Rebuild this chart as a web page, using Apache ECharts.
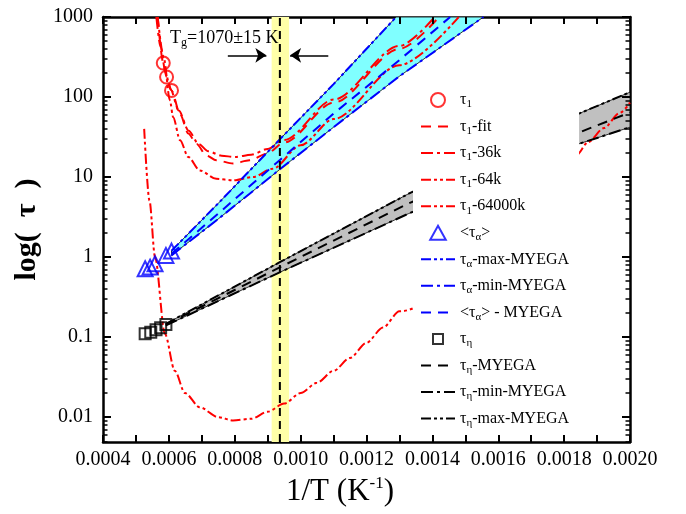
<!DOCTYPE html>
<html><head><meta charset="utf-8">
<script src="https://cdn.jsdelivr.net/npm/echarts@6/dist/echarts.min.js"></script>
<style>html,body{margin:0;padding:0;background:#fff}#c{width:686px;height:514px}</style>
</head><body><div id="c"></div>
<script>
// ---------- data ----------
const xTickValues = [0.0004,0.0005,0.0006,0.0007,0.0008,0.0009,0.0010,0.0011,0.0012,0.0013,0.0014,0.0015,0.0016,0.0017,0.0018,0.0019,0.0020];
const xTickLabels = ['0.0004','0.0006','0.0008','0.0010','0.0012','0.0014','0.0016','0.0018','0.0020'];
const yTickValues = [0.01, 0.1, 1, 10, 100, 1000];
const yTickLabels = ['0.01','0.1','1','10','100','1000'];

const tau1Pts   = [[0.000583,266],[0.000593,178],[0.000608,121]];
const tau1Fit   = [[0.000566,1000],[0.000583,266],[0.000593,178],[0.000608,121],[0.000634,61],[0.000659,35],[0.000684,26],[0.000714,18.6],[0.000744,16.2],[0.000795,14.8],[0.000845,16.2],[0.000896,19.5],[0.00095,27],[0.0011,85],[0.0013,400],[0.00142,1000]];
const tau1_36k  = [[0.000562,1000],[0.000575,420],[0.00059,200],[0.000605,125],[0.00063,68],[0.00066,38],[0.00069,26],[0.00072,21],[0.00076,18.5],[0.0008,17.8],[0.00085,19],[0.0009,22.5],[0.00095,29],[0.0011,93],[0.0013,435],[0.001407,1000]];
const tau1_64k  = [[0.000566,1000],[0.000585,300],[0.000603,91],[0.000613,56],[0.000634,28.8],[0.000659,17.8],[0.000694,12.1],[0.000744,9.5],[0.000795,9.1],[0.000855,10],[0.000915,12.7],[0.001,25],[0.0011,53],[0.0013,250],[0.00148,1000]];
const tau1_64000k = [[0.000525,40],[0.000541,5.1],[0.000558,1.0],[0.000588,0.11],[0.000618,0.038],[0.000649,0.020],[0.000694,0.0133],[0.00075,0.0100],[0.000795,0.0091],[0.00085,0.00955],[0.0009,0.0117],[0.00095,0.0148],[0.001,0.020],[0.00105,0.027],[0.0011,0.038],[0.00115,0.055],[0.0012,0.085],[0.00125,0.132],[0.0013,0.21],[0.001837,18.7],[0.001873,27.4],[0.001921,41],[0.001968,63],[0.002,85]];

const tauAPts  = [[0.000528,0.716],[0.000543,0.75],[0.000558,0.827],[0.000591,1.05],[0.000608,1.19]];
const tauAMax  = [[0.000608,1.2],[0.00075,4.7],[0.000938,30],[0.0011,145],[0.00129,1000]];
const tauAMin  = [[0.000608,1.05],[0.00075,3.0],[0.000938,12.6],[0.0011,42],[0.0013,182],[0.001555,1000]];
const tauAMean = [[0.000608,1.1],[0.00075,3.5],[0.000938,16.5],[0.0011,62],[0.0013,290],[0.001454,1000]];

const tauEtaPts  = [[0.000528,0.110],[0.000545,0.1155],[0.000561,0.124],[0.000575,0.131],[0.000591,0.144]];
const tauEtaMax  = [[0.000591,0.147],[0.000938,0.87],[0.001328,6.2],[0.001832,59],[0.002,115]];
const tauEtaMin  = [[0.000591,0.14],[0.000938,0.65],[0.001328,3.5],[0.001832,25],[0.002,42]];
const tauEtaMean = [[0.000591,0.144],[0.000938,0.75],[0.001328,4.7],[0.001873,40],[0.002,64]];

const tgValue = 0.000937;           // 1/1070 K
const tgBand  = [0.000912, 0.000965];
const tgArrowY = 332;
const tgArrowLeft  = [0.000779, 0.000896];
const tgArrowRight = [0.001084, 0.000968];

// ---------- chart ----------
const FONT = '"Liberation Serif","Times New Roman",serif';
const W = 686, H = 514;
const GRID = {left:103, right:56, top:17, bottom:72};
const X_MIN = 0.0004, X_MAX = 0.002, Y_MIN = 0.0049, Y_MAX = 1000;
const DASH = [10,7], DASH_DOT = [12,4,3,4], DASH_DOT_DOT = [10,3,3,3,3,3];

const minorY = [];
for (let e = -3; e <= 2; e++) for (let m = 2; m <= 9; m++) {
  const v = +(m * Math.pow(10, e)).toPrecision(3);
  if (v >= Y_MIN && v <= Y_MAX) minorY.push(v);
}

// tick lengths in pixels, converted to axis units so that the ticks go through the axes' scales
const pxPerX = (W - GRID.left - GRID.right) / (X_MAX - X_MIN);
const pxPerDecade = (H - GRID.top - GRID.bottom) / (Math.log10(Y_MAX) - Math.log10(Y_MIN));
const yStep = px => Math.pow(10, px / pxPerDecade);
const xStep = px => px / pxPerX;
const tickLines = [];
const majorLS = {color:'#000', width:2, type:'solid'};
const minorLS = {color:'#000', width:1.5, type:'solid'};
xTickValues.forEach(v => {
  tickLines.push([{coord:[v, Y_MIN], lineStyle:majorLS}, {coord:[v, Y_MIN * yStep(7)]}]);
  tickLines.push([{coord:[v, Y_MAX], lineStyle:majorLS}, {coord:[v, Y_MAX / yStep(7)]}]);
});
yTickValues.forEach(v => {
  tickLines.push([{coord:[X_MIN, v], lineStyle:majorLS}, {coord:[X_MIN + xStep(8), v]}]);
  tickLines.push([{coord:[X_MAX, v], lineStyle:majorLS}, {coord:[X_MAX - xStep(8), v]}]);
});
minorY.forEach(v => {
  tickLines.push([{coord:[X_MIN, v], lineStyle:minorLS}, {coord:[X_MIN + xStep(4.5), v]}]);
  tickLines.push([{coord:[X_MAX, v], lineStyle:minorLS}, {coord:[X_MAX - xStep(4.5), v]}]);
});

const legendText = {
  'tau1': '{t|τ}{s|1}',
  'tau1-fit': '{t|τ}{s|1}{t|-fit}',
  'tau1-36k': '{t|τ}{s|1}{t|-36k}',
  'tau1-64k': '{t|τ}{s|1}{t|-64k}',
  'tau1-64000k': '{t|τ}{s|1}{t|-64000k}',
  'tauA': '{t|<τ}{s|α}{t|>}',
  'tauA-max': '{t|τ}{s|α}{t|-max-MYEGA}',
  'tauA-min': '{t|τ}{s|α}{t|-min-MYEGA}',
  'tauA-mean': '{t|<τ}{s|α}{t|> - MYEGA}',
  'tauEta': '{t|τ}{s|η}',
  'tauEta-mean': '{t|τ}{s|η}{t|-MYEGA}',
  'tauEta-min': '{t|τ}{s|η}{t|-min-MYEGA}',
  'tauEta-max': '{t|τ}{s|η}{t|-max-MYEGA}'
};
const hideSym = {color:'rgba(0,0,0,0)', borderColor:'rgba(0,0,0,0)', borderWidth:0, opacity:0};
const legendIcons = {
  'tau1': 'circle',
  'tauA': 'path://M5,0 L10,9 L0,9 Z',
  'tauEta': 'path://M-2,-2 M0,0 L10,0 L10,10 L0,10 Z M12,12'
};
const legendData = Object.keys(legendText).map(n =>
  legendIcons[n] ? {name:n, icon:legendIcons[n]} : {name:n, itemStyle:hideSym});

function lineS(name, data, color, dash, smooth) {
  return {type:'line', name, data, symbol:'none', smooth: smooth ? 0.3 : false, smoothMonotone:'x',
    z:3, clip:true, lineStyle:{color, width:2, type:dash}, itemStyle:{color}};
}
function bandS(name, upper, lower, fill) {
  return {type:'custom', name, data: upper, encode:{x:0, y:1}, z:2, silent:true, clip:true,
    renderItem: (params, api) => {
      if (params.dataIndex !== 0) return null;
      const pts = upper.map(p => api.coord(p)).concat(lower.slice().reverse().map(p => api.coord(p)));
      return {type:'polygon', shape:{points:pts}, style:{fill, stroke:'#000', lineWidth:0.8}};
    }};
}
function scatterS(name, data, color, symbol, size) {
  return {type:'scatter', name, data, symbol, symbolSize:size, z:6,
    itemStyle:{color:'rgba(0,0,0,0)', borderColor:color, borderWidth:2}};
}

const axisLineStyle = {color:'#000', width:2.5};
const xBase = {type:'value', min:X_MIN, max:X_MAX, interval:0.0002,
  splitLine:{show:false}, minorSplitLine:{show:false}, axisTick:{show:false}, minorTick:{show:false}};
const yBase = {type:'log', logBase:10, min:Y_MIN, max:Y_MAX,
  splitLine:{show:false}, minorSplitLine:{show:false}, axisTick:{show:false}, minorTick:{show:false}};

const yLabel = v => { const i = yTickValues.findIndex(t => Math.abs(Math.log10(t) - Math.log10(v)) < 1e-4); return i >= 0 ? yTickLabels[i] : ''; };

const option = {
  animation:false,
  backgroundColor:'#fff',
  grid:{left:GRID.left, right:GRID.right, top:GRID.top, bottom:GRID.bottom, containLabel:false},
  title:{text:'{a|T}{b|g}{a|=1070±15 K}', left:170, top:27, padding:0,
    textStyle:{fontWeight:'normal', rich:{a:{fontFamily:FONT, fontSize:18, fontWeight:'normal', lineHeight:22, color:'#000'},
                     b:{fontFamily:FONT, fontSize:12, fontWeight:'normal', lineHeight:6, verticalAlign:'bottom', color:'#000'}}}},
  xAxis:[
    Object.assign({}, xBase, {position:'bottom', axisLine:{show:true, onZero:false, lineStyle:axisLineStyle},
      axisLabel:{color:'#000', fontFamily:FONT, fontSize:20, margin:8,
        formatter: v => xTickLabels[Math.round((v - X_MIN) / 0.0002)] || ''},
      name:'{a|1/T (K}{b|-1}{a|)}', nameLocation:'middle', nameGap:27,
      nameTextStyle:{padding:[0,53,0,0], rich:{a:{fontFamily:FONT, fontSize:31, lineHeight:34, color:'#000'},
        b:{fontFamily:FONT, fontSize:17, lineHeight:12, verticalAlign:'top', color:'#000'}}}}),
    Object.assign({}, xBase, {position:'top', axisLine:{show:true, onZero:false, lineStyle:axisLineStyle},
      axisLabel:{show:false}})
  ],
  yAxis:[
    Object.assign({}, yBase, {position:'left',
      axisLine:{show:true, onZero:false, lineStyle:axisLineStyle},
      axisLabel:{show:true, customValues:yTickValues, color:'#000', fontFamily:FONT, fontSize:20, margin:10, formatter: yLabel},
      name:'{a|log(  τ  )}', nameLocation:'middle', nameGap:56,
      nameTextStyle:{rich:{a:{fontFamily:FONT, fontSize:30, fontWeight:'bold', lineHeight:36, color:'#000'}}}}),
    Object.assign({}, yBase, {position:'right',
      axisLine:{show:true, onZero:false, lineStyle:axisLineStyle}, axisLabel:{show:false}})
  ],
  legend:{
    data:legendData, orient:'vertical', left:413, top:85,
    padding:[7,10,7,7], itemGap:8.55, itemWidth:34, itemHeight:14,
    backgroundColor:'#fff', selectedMode:false,
    formatter: n => legendText[n],
    textStyle:{color:'#000', fontFamily:FONT, fontSize:16,
      rich:{t:{fontFamily:FONT, fontSize:16, lineHeight:20, color:'#000'},
            s:{fontFamily:FONT, fontSize:11, lineHeight:6, verticalAlign:'bottom', color:'#000'}}}
  },
  series:[
    {type:'line', name:'Tg', data:[[tgValue, Y_MIN],[tgValue, Y_MAX]], symbol:'none', z:4, silent:true,
      lineStyle:{color:'#000', width:2, type:[8,5]},
      markArea:{silent:true, itemStyle:{color:'#ffffa8'}, data:[[{xAxis:tgBand[0]},{xAxis:tgBand[1]}]]},
      markLine:{silent:true, symbol:['none','arrow'], symbolSize:11, label:{show:false},
        lineStyle:{color:'#000', width:1.5, type:'solid'},
        data:[[{coord:[tgArrowLeft[0], tgArrowY]},{coord:[tgArrowLeft[1], tgArrowY]}],
              [{coord:[tgArrowRight[0], tgArrowY]},{coord:[tgArrowRight[1], tgArrowY]}]]}},
    {type:'line', name:'frameTicks', data:[[tgValue, Y_MIN],[tgValue, Y_MAX]], symbol:'none', z:4, silent:true,
      lineStyle:{width:0, opacity:0},
      markLine:{silent:true, symbol:['none','none'], label:{show:false}, animation:false,
        lineStyle:{color:'#000', width:2, type:'solid'}, data:tickLines}},
    bandS('bandA', tauAMax, tauAMin, '#80ffff'),
    bandS('bandEta', tauEtaMax, tauEtaMin, '#c0c0c0'),
    lineS('tau1-fit', tau1Fit, '#ff0000', DASH, true),
    lineS('tau1-36k', tau1_36k, '#ff0000', DASH_DOT, true),
    lineS('tau1-64k', tau1_64k, '#ff0000', DASH_DOT_DOT, true),
    lineS('tau1-64000k', tau1_64000k, '#ff0000', DASH_DOT_DOT, true),
    lineS('tauA-max', tauAMax, '#0000ff', DASH_DOT_DOT, false),
    lineS('tauA-min', tauAMin, '#0000ff', DASH_DOT, false),
    lineS('tauA-mean', tauAMean, '#0000ff', DASH, false),
    lineS('tauEta-mean', tauEtaMean, '#000000', DASH, false),
    lineS('tauEta-min', tauEtaMin, '#000000', DASH_DOT, false),
    lineS('tauEta-max', tauEtaMax, '#000000', DASH_DOT_DOT, false),
    scatterS('tau1', tau1Pts, '#ff0000', 'circle', 13),
    scatterS('tauA', tauAPts, '#0000ff', 'triangle', 15),
    scatterS('tauEta', tauEtaPts, '#000000', 'rect', 11)
  ]
};
const chart = echarts.init(document.getElementById('c'), null, {renderer:'canvas'});
chart.setOption(option);
</script></body></html>
